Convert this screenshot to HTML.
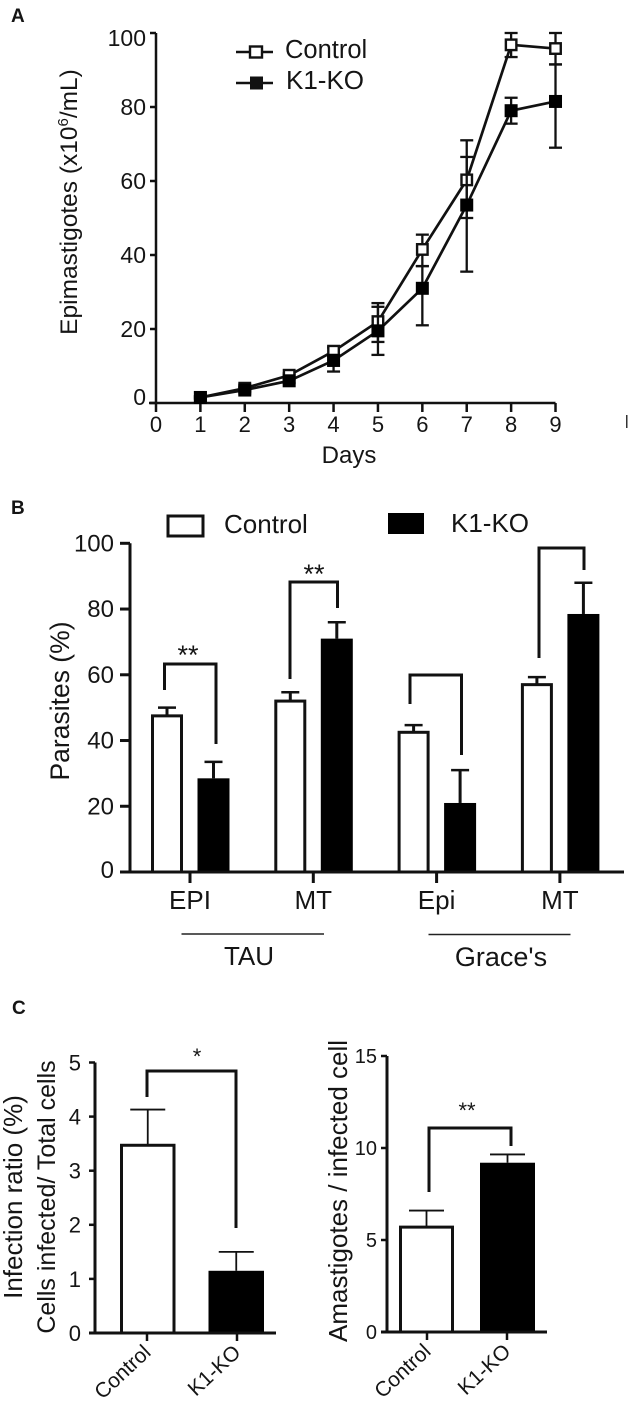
<!DOCTYPE html>
<html lang="en">
<head>
<meta charset="utf-8">
<title>Epimastigote growth and differentiation charts</title>
<style>
html,body{margin:0;padding:0;background:#fff}
svg{display:block}
text{font-family:"Liberation Sans",Arial,sans-serif;fill:#151515}
</style>
</head>
<body>
<svg id="figure" xmlns="http://www.w3.org/2000/svg" width="630" height="1401" viewBox="0 0 630 1401">
  <rect x="0" y="0" width="630" height="1401" fill="#fff"></rect>
  <g id="panel-a">
    <text x="11" y="22" font-size="19" font-weight="bold">A</text>
    <text transform="translate(77,202) rotate(-90)" text-anchor="middle" font-size="24.5">Epimastigotes (x10<tspan font-size="15" dy="-9">6</tspan><tspan dy="9">/mL)</tspan></text>
    <text x="349" y="463" text-anchor="middle" font-size="24">Days</text>
    <rect x="626" y="415" width="1.5" height="13" fill="#333"></rect>
    <g>
      <line x1="236" y1="52" x2="273" y2="52" stroke="#111" stroke-width="2.5"></line>
      <rect x="250" y="46.500" width="12" height="11" fill="#fff" stroke="#111" stroke-width="2.4"></rect>
      <text x="285" y="58" font-size="25.500">Control</text>
      <line x1="236" y1="83" x2="273" y2="83" stroke="#111" stroke-width="2.5"></line>
      <rect x="250" y="76.500" width="13" height="13" fill="#111"></rect>
      <text x="286" y="89" font-size="26">K1-KO</text>
    </g>
  </g>
  <g id="panel-b">
    <text x="11" y="514" font-size="19" font-weight="bold">B</text>
    <text transform="translate(69,701) rotate(-90)" text-anchor="middle" font-size="26.5">Parasites (%)</text>
    <g>
      <rect x="168" y="516" width="35" height="20" fill="#fff" stroke="#111" stroke-width="3"></rect>
      <text x="224" y="533" font-size="26">Control</text>
      <rect x="388" y="513" width="36" height="21" fill="#000"></rect>
      <text x="451" y="532" font-size="26">K1-KO</text>
    </g>
    <g fill="none" stroke="#111" stroke-width="3">
      <polyline points="164.500,690 164.500,664 216,664 216,744"></polyline>
      <polyline points="290,679 290,582 337.500,582 337.500,608"></polyline>
      <polyline points="410,704 410,675 461.500,675 461.500,755"></polyline>
      <polyline points="539,658 539,548 584,548 584,570"></polyline>
    </g>
    <text x="188" y="664" text-anchor="middle" font-size="27">**</text>
    <text x="314" y="583" text-anchor="middle" font-size="27">**</text>
    <line x1="181.500" y1="934" x2="324" y2="934" stroke="#222" stroke-width="1.5"></line>
    <line x1="428.500" y1="934.500" x2="570.500" y2="934.500" stroke="#222" stroke-width="1.5"></line>
    <text x="249" y="965" text-anchor="middle" font-size="26">TAU</text>
    <text x="501" y="966" text-anchor="middle" font-size="27">Grace's</text>
  </g>
  <g id="panel-c1">
    <text x="12" y="1014" font-size="19" font-weight="bold">C</text>
    <text transform="translate(22,1197) rotate(-90)" text-anchor="middle" font-size="26">Infection ratio (%)</text>
    <text transform="translate(55,1197) rotate(-90)" text-anchor="middle" font-size="25">Cells infected/ Total cells</text>
    <polyline points="147,1097 147,1071 236,1071 236,1228" fill="none" stroke="#111" stroke-width="3"></polyline>
    <text x="197" y="1064" text-anchor="middle" font-size="22">*</text>
  </g>
  <g id="panel-c2">
    <text transform="translate(347,1191) rotate(-90)" text-anchor="middle" font-size="26">Amastigotes / infected cell</text>
    <polyline points="429,1192 429,1128 511,1128 511,1146" fill="none" stroke="#111" stroke-width="3"></polyline>
    <text x="467" y="1118" text-anchor="middle" font-size="22">**</text>
  </g>
</svg>
<script>
// Panel A data
const days = [1, 2, 3, 4, 5, 6, 7, 8, 9];
const dayTicks = [0, 1, 2, 3, 4, 5, 6, 7, 8, 9];
const growthTicks = [0, 20, 40, 60, 80, 100];
const controlGrowth = [1.5, 4, 7.5, 14, 22, 41.5, 60.3, 96.8, 95.8];
const controlUpper = [1.8, 4.4, 8, 15, 27, 45.5, 71, 100, 100];
const controlLower = [1.2, 3.6, 7, 13, 16.5, 37, 50, 93.5, 91.5];
const koGrowth = [1.5, 3.5, 6, 11.5, 19.5, 31, 53.5, 79, 81.5];
const koUpper = [1.8, 3.9, 6.6, 13, 26, 37, 66.5, 82.5, 91.5];
const koLower = [1.2, 3.1, 5.4, 8.5, 13, 21, 35.5, 75.5, 69];

// Panel B data
const stageLabels = ['EPI', 'MT', 'Epi', 'MT'];
const stageTicks = [0, 20, 40, 60, 80, 100];
const stageControl = [47.5, 52, 42.5, 57];
const stageControlErrorTop = [50, 54.7, 44.7, 59.3];
const stageKo = [28.5, 71, 21, 78.5];
const stageKoErrorTop = [33.5, 76, 31, 88];

// Panel C data
const infectionCategories = ['Control', 'K1-KO'];
const infectionTicks = [0, 1, 2, 3, 4, 5];
const infectionValues = [3.47, 1.15];
const infectionErrorTop = [4.13, 1.5];
const amastigoteCategories = ['Control', 'K1-KO'];
const amastigoteTicks = [0, 5, 10, 15];
const amastigoteValues = [5.7, 9.2];
const amastigoteErrorTop = [6.6, 9.65];

const NS = 'http://www.w3.org/2000/svg';
function mk(parentId, tag, props, content) {
  const node = document.createElementNS(NS, tag);
  for (const key in props) node.setAttribute(key, props[key]);
  if (content !== undefined) node.textContent = content;
  document.getElementById(parentId).appendChild(node);
  return node;
}
const INK = '#111';

// ---------- Panel A ----------
const ax = v => 156 + v * 44.39;
const ay = v => 403 - v * 3.7;

let el = mk('panel-a', 'line', {x1: ax(0), y1: ay(100), x2: ax(0), y2: ay(0), stroke: INK, 'stroke-width': 2.5});


el = mk('panel-a', 'line', {x1: ax(0) - 7, y1: ay(0), x2: ax(9), y2: ay(0), stroke: INK, 'stroke-width': 2.5});



growthTicks.forEach(t => {
  let n = mk('panel-a', 'line', {x1: ax(0) - 6, y1: ay(t), x2: ax(0), y2: ay(t), stroke: INK, 'stroke-width': 2.5});
  
  
  const dy = t === 0 ? 2 : (t === 100 ? 13 : 8);
  n = mk('panel-a', 'text', {x: 146, y: ay(t) + dy, 'text-anchor': 'end', 'font-size': 23}, String(t));
  
  
});
dayTicks.forEach(t => {
  let n = mk('panel-a', 'line', {x1: ax(t), y1: ay(0), x2: ax(t), y2: ay(0) + 9, stroke: INK, 'stroke-width': 2.5});
  
  
  n = mk('panel-a', 'text', {x: ax(t), y: 432, 'text-anchor': 'middle', 'font-size': 22}, String(t));
  
  
});

function drawSeries(name, values, upper, lower, filled) {
  days.forEach((d, i) => {
    let n = mk('panel-a', 'line', {x1: ax(d), y1: ay(upper[i]), x2: ax(d), y2: ay(lower[i]), stroke: INK, 'stroke-width': 2.3});
    
    
    n = mk('panel-a', 'line', {x1: ax(d) - 6.5, y1: ay(upper[i]), x2: ax(d) + 6.5, y2: ay(upper[i]), stroke: INK, 'stroke-width': 2.3});
    
    
    n = mk('panel-a', 'line', {x1: ax(d) - 6.5, y1: ay(lower[i]), x2: ax(d) + 6.5, y2: ay(lower[i]), stroke: INK, 'stroke-width': 2.3});
    
    
  });
  const pts = days.map((d, i) => ax(d) + ',' + ay(values[i])).join(' ');
  let line = mk('panel-a', 'polyline', {points: pts, fill: 'none', stroke: INK, 'stroke-width': 2.7});
  
  
  days.forEach((d, i) => {
    const size = filled ? 13 : 10.5;
    const n = mk('panel-a', 'rect', {
      x: ax(d) - size / 2, y: ay(values[i]) - size / 2, width: size, height: size,
      fill: filled ? '#000' : '#fff', stroke: filled ? 'none' : INK, 'stroke-width': 2.4
    });
    
    
  });
}
drawSeries('control', controlGrowth, controlUpper, controlLower, false);
drawSeries('k1-ko', koGrowth, koUpper, koLower, true);

// ---------- Panel B ----------
const by = v => 872 - v * 3.287;
const bandCenter = i => 190 + i * 123.3;
const BAR_B = 32;

stageControl.forEach((v, i) => {
  const left = bandCenter(i) - 39;
  const mid = left + BAR_B / 2;
  let n = mk('panel-b', 'line', {x1: mid, y1: by(stageControlErrorTop[i]), x2: mid, y2: by(v), stroke: INK, 'stroke-width': 3});
  
  
  n = mk('panel-b', 'line', {x1: mid - 9, y1: by(stageControlErrorTop[i]), x2: mid + 9, y2: by(stageControlErrorTop[i]), stroke: INK, 'stroke-width': 2.5});
  
  
  n = mk('panel-b', 'rect', {x: left + 1.5, y: by(v), width: BAR_B - 3, height: by(0) - by(v), fill: '#fff', stroke: INK, 'stroke-width': 3});
  
  
});
stageKo.forEach((v, i) => {
  const left = bandCenter(i) + 7.5;
  const mid = left + BAR_B / 2;
  let n = mk('panel-b', 'line', {x1: mid, y1: by(stageKoErrorTop[i]), x2: mid, y2: by(v), stroke: INK, 'stroke-width': 3});
  
  
  n = mk('panel-b', 'line', {x1: mid - 9, y1: by(stageKoErrorTop[i]), x2: mid + 9, y2: by(stageKoErrorTop[i]), stroke: INK, 'stroke-width': 2.5});
  
  
  n = mk('panel-b', 'rect', {x: left, y: by(v), width: BAR_B, height: by(0) - by(v), fill: '#000'});
  
  
});
el = mk('panel-b', 'line', {x1: 130, y1: by(100), x2: 130, y2: by(0), stroke: INK, 'stroke-width': 3});


el = mk('panel-b', 'line', {x1: 120, y1: by(0), x2: 624, y2: by(0), stroke: INK, 'stroke-width': 3});


stageTicks.forEach(t => {
  let n = mk('panel-b', 'line', {x1: 120, y1: by(t), x2: 130, y2: by(t), stroke: INK, 'stroke-width': 3});
  
  
  n = mk('panel-b', 'text', {x: 114, y: by(t) + (t === 0 ? 6 : 8), 'text-anchor': 'end', 'font-size': 24}, String(t));
  
  
});
stageLabels.forEach((label, i) => {
  let n = mk('panel-b', 'line', {x1: bandCenter(i), y1: by(0), x2: bandCenter(i), y2: by(0) + 11, stroke: INK, 'stroke-width': 3});
  
  
  n = mk('panel-b', 'text', {x: bandCenter(i), y: 909, 'text-anchor': 'middle', 'font-size': 26}, label);
  
  
});

// ---------- Panel C ----------
function drawSmallChart(groupId, prefix, cfg, categories, ticks, values, errorTop) {
  const yScale = v => cfg.y0 - v * cfg.unit;
  values.forEach((v, i) => {
    const left = cfg.barStart + cfg.barStep * i;
    const mid = left + cfg.barWidth / 2;
    let n = mk(groupId, 'line', {x1: mid, y1: yScale(errorTop[i]), x2: mid, y2: yScale(v), stroke: INK, 'stroke-width': 1.8});
    
    
    n = mk(groupId, 'line', {x1: mid - 17.5, y1: yScale(errorTop[i]), x2: mid + 17.5, y2: yScale(errorTop[i]), stroke: INK, 'stroke-width': 1.8});
    
    
    n = mk(groupId, 'rect', i === 0
      ? {x: left + 1.5, y: yScale(v), width: cfg.barWidth - 3, height: yScale(0) - yScale(v), fill: '#fff', stroke: INK, 'stroke-width': 3}
      : {x: left, y: yScale(v), width: cfg.barWidth, height: yScale(0) - yScale(v), fill: '#000'});
    
    
  });
  let a = mk(groupId, 'line', {x1: cfg.axisX, y1: yScale(ticks[ticks.length - 1]), x2: cfg.axisX, y2: yScale(0), stroke: INK, 'stroke-width': 3});
  
  
  a = mk(groupId, 'line', {x1: cfg.axisX - 6, y1: yScale(0), x2: cfg.axisEnd, y2: yScale(0), stroke: INK, 'stroke-width': 3});
  
  
  ticks.forEach(t => {
    let n = mk(groupId, 'line', {x1: cfg.axisX - 6, y1: yScale(t), x2: cfg.axisX, y2: yScale(t), stroke: INK, 'stroke-width': 2.5});
    
    
    n = mk(groupId, 'text', {x: cfg.axisX - cfg.labelGap, y: yScale(t) + cfg.tickFont * 0.36, 'text-anchor': 'end', 'font-size': cfg.tickFont}, String(t));
    
    
  });
  categories.forEach((label, i) => {
    const cx = cfg.tickStart + cfg.tickStep * i;
    let n = mk(groupId, 'line', {x1: cx, y1: yScale(0), x2: cx, y2: yScale(0) + 8, stroke: INK, 'stroke-width': 2.5});
    
    
    n = mk(groupId, 'text', {transform: 'translate(' + (cx + 5) + ',' + (yScale(0) + 21) + ') rotate(-43)', 'text-anchor': 'end', 'font-size': 21}, label);
    
    
  });
}
drawSmallChart('panel-c1', 'infection',
  {y0: 1333, unit: 54.1, barStart: 120, barStep: 88.5, barWidth: 55.5, axisX: 95, axisEnd: 276, tickStart: 147, tickStep: 90, tickFont: 22, labelGap: 14},
  infectionCategories, infectionTicks, infectionValues, infectionErrorTop);
drawSmallChart('panel-c2', 'amastigotes',
  {y0: 1332, unit: 18.4, barStart: 399, barStep: 81, barWidth: 55, axisX: 387, axisEnd: 547, tickStart: 427, tickStep: 80, tickFont: 20, labelGap: 10},
  amastigoteCategories, amastigoteTicks, amastigoteValues, amastigoteErrorTop);
</script>
</body>
</html>
